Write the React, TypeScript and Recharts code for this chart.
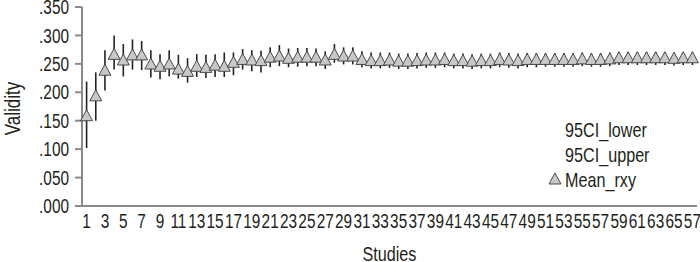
import React from 'react';
import { ComposedChart, Scatter, XAxis, YAxis, ErrorBar, Legend, Label } from 'recharts';

const studies = [
  1, 2, 3, 4, 5, 6, 7, 8, 9, 10,
  11, 12, 13, 14, 15, 16, 17, 18, 19, 20,
  21, 22, 23, 24, 25, 26, 27, 28, 29, 30,
  31, 32, 33, 34, 35, 36, 37, 38, 39, 40,
  41, 42, 43, 44, 45, 46, 47, 48, 49, 50,
  51, 52, 53, 54, 55, 56, 57, 58, 59, 60,
  61, 62, 63, 64, 65, 66, 67,
];

const meanRxy = [
  0.157, 0.192, 0.237, 0.265, 0.255, 0.264, 0.264, 0.248, 0.244, 0.248,
  0.239, 0.235, 0.244, 0.242, 0.246, 0.244, 0.251, 0.256, 0.255, 0.254,
  0.260, 0.262, 0.258, 0.260, 0.260, 0.260, 0.255, 0.265, 0.262, 0.262,
  0.256, 0.254, 0.254, 0.255, 0.253, 0.253, 0.254, 0.255, 0.255, 0.256,
  0.254, 0.254, 0.253, 0.254, 0.254, 0.256, 0.255, 0.254, 0.256, 0.256,
  0.256, 0.256, 0.256, 0.256, 0.257, 0.256, 0.256, 0.257, 0.259, 0.259,
  0.259, 0.259, 0.259, 0.259, 0.258, 0.259, 0.259,
];

const ciLower = [
  0.102, 0.150, 0.203, 0.240, 0.228, 0.240, 0.239, 0.226, 0.223, 0.228,
  0.224, 0.217, 0.227, 0.225, 0.227, 0.227, 0.230, 0.240, 0.237, 0.235,
  0.244, 0.246, 0.244, 0.245, 0.246, 0.246, 0.241, 0.252, 0.249, 0.249,
  0.244, 0.242, 0.242, 0.243, 0.241, 0.241, 0.242, 0.243, 0.243, 0.244,
  0.242, 0.242, 0.241, 0.242, 0.242, 0.244, 0.243, 0.242, 0.244, 0.244,
  0.245, 0.245, 0.245, 0.245, 0.246, 0.245, 0.245, 0.246, 0.248, 0.248,
  0.248, 0.248, 0.248, 0.248, 0.247, 0.248, 0.248,
];

const ciUpper = [
  0.219, 0.235, 0.274, 0.300, 0.285, 0.293, 0.290, 0.274, 0.267, 0.274,
  0.266, 0.260, 0.267, 0.266, 0.267, 0.270, 0.270, 0.276, 0.274, 0.273,
  0.279, 0.283, 0.277, 0.278, 0.278, 0.277, 0.272, 0.285, 0.279, 0.279,
  0.272, 0.270, 0.270, 0.270, 0.268, 0.268, 0.269, 0.270, 0.270, 0.270,
  0.268, 0.268, 0.267, 0.268, 0.268, 0.270, 0.269, 0.268, 0.269, 0.269,
  0.269, 0.269, 0.269, 0.269, 0.270, 0.269, 0.269, 0.270, 0.271, 0.271,
  0.271, 0.271, 0.271, 0.271, 0.270, 0.271, 0.271,
];

const xTickStudies = [
  1, 3, 5, 7, 9, 11, 13, 15, 17, 19, 21, 23, 25, 27, 29, 31, 33,
  35, 37, 39, 41, 43, 45, 47, 49, 51, 53, 55, 57, 59, 61, 63, 65, 67,
];
const xTickLabels = [
  '1', '3', '5', '7', '9', '11', '13', '15', '17', '19', '21', '23', '25', '27', '29', '31', '33',
  '35', '37', '39', '41', '43', '45', '47', '49', '51', '53', '55', '57', '59', '61', '63', '65', '57',
];

const yTicks = [0, 0.05, 0.1, 0.15, 0.2, 0.25, 0.3, 0.35];
const legendItems = ['95CI_lower', '95CI_upper', 'Mean_rxy'];
const xTitle = 'Studies';
const yTitle = 'Validity';

const FONT = "'Liberation Sans', Arial, sans-serif";
const SQUEEZE = 0.77;
const TICK_FS = 20;
const AXIS = '#8a8a8a';
const TEXT = '#231f20';

const data = studies.map((s, i) => ({
  study: s,
  mean: meanRxy[i],
  err: [meanRxy[i] - ciLower[i], ciUpper[i] - meanRxy[i]],
}));

const boundaries = studies.map((s) => s - 0.5).concat([studies[studies.length - 1] + 0.5]);
const xDomain = [boundaries[0], boundaries[boundaries.length - 1]];

const squeezeAt = (x: number) => `matrix(${SQUEEZE},0,0,1,${x * (1 - SQUEEZE)},0)`;

const XTick = (props: any) => {
  const { x, y, payload } = props;
  const label = xTickLabels[xTickStudies.indexOf(payload.value)];
  return (
    <text
      x={x}
      y={y}
      dy="0.71em"
      textAnchor="middle"
      fontSize={TICK_FS}
      fontFamily={FONT}
      fill={TEXT}
      transform={squeezeAt(x)}
    >
      {label}
    </text>
  );
};

const YTick = (props: any) => {
  const { x, y, payload } = props;
  const label = Number(payload.value).toFixed(3).replace(/^0/, '');
  return (
    <text
      x={x}
      y={y}
      dy="0.36em"
      textAnchor="end"
      fontSize={TICK_FS}
      fontFamily={FONT}
      fill={TEXT}
      transform={squeezeAt(x)}
    >
      {label}
    </text>
  );
};

const XTitle = (props: any) => {
  const { x, y, width, height } = props.viewBox;
  const cx = x + width / 2;
  return (
    <text
      x={cx}
      y={y + height - 1}
      textAnchor="middle"
      fontSize={21}
      fontFamily={FONT}
      fill={TEXT}
      transform={squeezeAt(cx)}
    >
      {xTitle}
    </text>
  );
};

const YTitle = (props: any) => {
  const { y, height } = props.viewBox;
  const cy = y + height / 2 + 2;
  return (
    <text
      x={0}
      y={0}
      dy="0.36em"
      textAnchor="middle"
      fontSize={22}
      fontFamily={FONT}
      fill={TEXT}
      transform={`translate(12,${cy}) rotate(-90) scale(${SQUEEZE},1)`}
    >
      {yTitle}
    </text>
  );
};

const Tri = (props: any) => {
  const { cx, cy } = props;
  if (cx == null || cy == null) return null;
  return (
    <polygon
      points={`${cx},${cy - 7} ${cx + 6},${cy + 4} ${cx - 6},${cy + 4}`}
      fill="#c8c8c8"
      stroke="#4a4a4a"
      strokeWidth={1}
    />
  );
};

const renderLegend = () => (
  <div style={{ fontFamily: FONT, fontSize: 21, color: TEXT, lineHeight: '25px' }}>
    {legendItems.map((name, i) => (
      <div key={name} style={{ display: 'flex', alignItems: 'center', height: 25 }}>
        <svg width={18} height={25} style={{ flex: 'none' }}>
          {i === legendItems.length - 1 && (
            <polygon points="8,6 14,17 2,17" fill="#c8c8c8" stroke="#4a4a4a" strokeWidth={1} />
          )}
        </svg>
        <span
          style={{
            display: 'inline-block',
            transform: `scaleX(${SQUEEZE})`,
            transformOrigin: 'left center',
            whiteSpace: 'nowrap',
          }}
        >
          {name}
        </span>
      </div>
    ))}
  </div>
);

export default function App() {
  return (
    <div style={{ position: 'absolute', left: 0, top: 0, background: '#fff' }}>
      <ComposedChart
        width={700}
        height={262}
        data={data}
        margin={{ top: 7, right: 3, bottom: 0, left: 0 }}
      >
        <XAxis
          xAxisId="a_marks"
          type="number"
          dataKey="study"
          domain={xDomain}
          ticks={boundaries}
          interval={0}
          tick={false}
          tickSize={7}
          height={1}
          axisLine={{ stroke: AXIS, strokeWidth: 2 }}
          tickLine={{ stroke: AXIS, strokeWidth: 1 }}
        />
        <XAxis
          xAxisId="b_labels"
          type="number"
          dataKey="study"
          domain={xDomain}
          ticks={xTickStudies}
          interval={0}
          axisLine={false}
          tickLine={false}
          height={55}
          tickSize={6}
          tickMargin={1}
          tick={<XTick />}
        >
          <Label content={<XTitle />} />
        </XAxis>
        <YAxis
          type="number"
          domain={[0, 0.35]}
          ticks={yTicks}
          interval={0}
          width={82}
          tickSize={7}
          tickMargin={6}
          axisLine={{ stroke: AXIS, strokeWidth: 2 }}
          tickLine={{ stroke: AXIS, strokeWidth: 2 }}
          tick={<YTick />}
        >
          <Label content={<YTitle />} />
        </YAxis>
        <Legend
          layout="vertical"
          align="center"
          verticalAlign="middle"
          wrapperStyle={{ left: 547, top: 117, width: 140 }}
          content={renderLegend}
        />
        <Scatter
          xAxisId="b_labels"
          dataKey="mean"
          name="Mean_rxy"
          shape={<Tri />}
          isAnimationActive={false}
          legendType="none"
        >
          <ErrorBar
            dataKey="err"
            direction="y"
            width={0}
            stroke="#222"
            strokeWidth={1.6}
            isAnimationActive={false}
          />
        </Scatter>
      </ComposedChart>
    </div>
  );
}
